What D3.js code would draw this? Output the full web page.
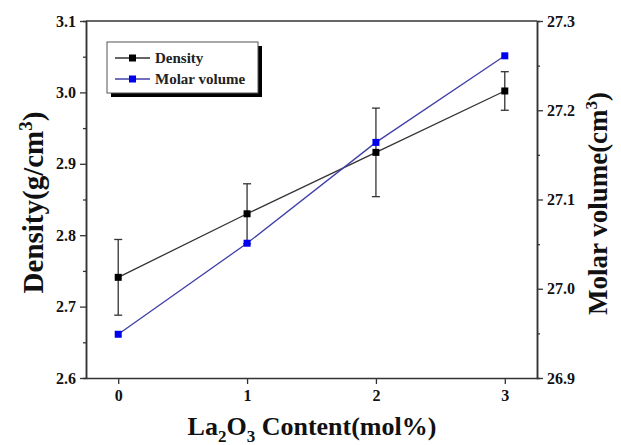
<!DOCTYPE html>
<html><head><meta charset="utf-8">
<script src="https://cdn.jsdelivr.net/npm/d3@7"></script>
<style>body{margin:0;background:#fff}svg{display:block}text{font-family:"Liberation Serif","Times New Roman",serif !important;font-weight:bold !important}</style>
</head><body>
<script>
const content = [0, 1, 2, 3];
const density = [2.741, 2.830, 2.916, 3.002];
const densityErr = [0.053, 0.042, 0.062, 0.027];
const molarVolume = [26.949, 27.051, 27.164, 27.261];
const xTicks = [0, 1, 2, 3];
const leftTicks = [2.6, 2.7, 2.8, 2.9, 3.0, 3.1];
const rightTicks = [26.9, 27.0, 27.1, 27.2, 27.3];
const seriesNames = ["Density", "Molar volume"];

const W = 621, H = 445;
const m = {l: 86, r: 537, t: 21, b: 378};
const svg = d3.select("body").append("svg").attr("width", W).attr("height", H);
const x = d3.scaleLinear().domain([-0.25, 3.25]).range([m.l, m.r]);
const yL = d3.scaleLinear().domain([2.6, 3.1]).range([m.b, m.t]);
const yR = d3.scaleLinear().domain([26.9, 27.3]).range([m.b, m.t]);
const axisCol = "#333";
const serif = '"Liberation Serif","Times New Roman",serif';

function styleAxis(g){
  g.attr("font-family", serif).attr("font-size", 16).attr("font-weight", "bold");
  g.selectAll("path.domain").attr("stroke", axisCol).attr("stroke-width", 1.5);
  g.selectAll(".tick line").attr("stroke", axisCol).attr("stroke-width", 1.3);
  g.selectAll(".tick text").attr("fill", "#111")
    .style("font-family", serif).style("font-weight", "bold").style("font-size", "16px");
}
// minor ticks
const minorL = d3.range(2.65, 3.1, 0.1);
const minorR = d3.range(26.95, 27.3, 0.1);
svg.append("g").attr("transform", `translate(${m.l},0)`)
  .call(d3.axisLeft(yL).tickValues(minorL).tickSize(3).tickFormat(""))
  .call(styleAxis);
svg.append("g").attr("transform", `translate(${m.r},0)`)
  .call(d3.axisRight(yR).tickValues(minorR).tickSize(3).tickFormat(""))
  .call(styleAxis);
// major axes
svg.append("g").attr("transform", `translate(${m.l},0)`)
  .call(d3.axisLeft(yL).tickValues(leftTicks).tickSize(6).tickSizeOuter(0).tickPadding(4).tickFormat(d3.format(".1f")))
  .call(styleAxis);
svg.append("g").attr("transform", `translate(${m.r},0)`)
  .call(d3.axisRight(yR).tickValues(rightTicks).tickSize(6).tickSizeOuter(0).tickPadding(4).tickFormat(d3.format(".1f")))
  .call(styleAxis);
svg.append("g").attr("transform", `translate(0,${m.b})`)
  .call(d3.axisBottom(x).tickValues(xTicks).tickSize(6).tickSizeOuter(0).tickPadding(6).tickFormat(d3.format("d")))
  .call(styleAxis);
// top frame
svg.append("line").attr("x1", m.l).attr("x2", m.r).attr("y1", m.t).attr("y2", m.t)
  .attr("stroke", axisCol).attr("stroke-width", 1.5);

// Density line
const densPts = content.map((c, i) => ({c, v: density[i], e: densityErr[i]}));
const molPts = content.map((c, i) => ({c, v: molarVolume[i]}));
svg.append("path").datum(densPts)
  .attr("d", d3.line().x(d => x(d.c)).y(d => yL(d.v)))
  .attr("fill", "none").attr("stroke", "#333").attr("stroke-width", 1.3);
svg.append("path").datum(molPts)
  .attr("d", d3.line().x(d => x(d.c)).y(d => yR(d.v)))
  .attr("fill", "none").attr("stroke", "#4040a8").attr("stroke-width", 1.3);
// error bars
const eb = svg.append("g").attr("stroke", "#333").attr("stroke-width", 1.3);
densPts.forEach(d => {
  const cx = x(d.c), y1 = yL(d.v + d.e), y2 = yL(d.v - d.e);
  eb.append("line").attr("x1", cx).attr("x2", cx).attr("y1", y1).attr("y2", y2);
  eb.append("line").attr("x1", cx - 4).attr("x2", cx + 4).attr("y1", y1).attr("y2", y1);
  eb.append("line").attr("x1", cx - 4).attr("x2", cx + 4).attr("y1", y2).attr("y2", y2);
});
// markers
svg.selectAll("rect.dm").data(densPts).join("rect").attr("class", "dm")
  .attr("x", d => x(d.c) - 3.5).attr("y", d => yL(d.v) - 3.5).attr("width", 7).attr("height", 7).attr("fill", "#000");
svg.selectAll("rect.mm").data(molPts).join("rect").attr("class", "mm")
  .attr("x", d => x(d.c) - 3.5).attr("y", d => yR(d.v) - 3.5).attr("width", 7).attr("height", 7).attr("fill", "#0000ee");

// legend
const lg = svg.append("g");
lg.append("rect").attr("x", 111).attr("y", 46).attr("width", 151).attr("height", 51).attr("fill", "#000");
lg.append("rect").attr("x", 107).attr("y", 42).attr("width", 151).attr("height", 51).attr("fill", "#fff").attr("stroke", "#555").attr("stroke-width", 1);
const lgCols = [["#333", "#000"], ["#4040a8", "#0000ee"]];
seriesNames.forEach((n, i) => {
  const yy = 58 + i * 21;
  lg.append("line").attr("x1", 115).attr("x2", 150).attr("y1", yy).attr("y2", yy).attr("stroke", lgCols[i][0]).attr("stroke-width", 1.3);
  lg.append("rect").attr("x", 129).attr("y", yy - 3.5).attr("width", 7).attr("height", 7).attr("fill", lgCols[i][1]);
  lg.append("text").attr("x", 155).attr("y", yy + 5).attr("font-size", 15).attr("fill", "#222").text(n);
});

// axis titles
const lt = svg.append("text").attr("transform", `translate(43,${(m.t + m.b) / 2 + 3}) rotate(-90)`)
  .attr("text-anchor", "middle").attr("font-size", 29).attr("fill", "#111");
lt.append("tspan").text("Density(g/cm");
lt.append("tspan").attr("dy", -11).attr("font-size", 19).text("3");
lt.append("tspan").attr("dy", 11).text(")");

const rt = svg.append("text").attr("transform", `translate(607,${(m.t + m.b) / 2 + 4}) rotate(-90)`)
  .attr("text-anchor", "middle").attr("font-size", 27).attr("fill", "#111");
rt.append("tspan").text("Molar volume(cm");
rt.append("tspan").attr("dy", -10).attr("font-size", 17).text("3");
rt.append("tspan").attr("dy", 10).text(")");

const bt = svg.append("text").attr("x", 312).attr("y", 435).attr("text-anchor", "middle").attr("font-size", 26).attr("fill", "#111");
bt.append("tspan").text("La");
bt.append("tspan").attr("dy", 7).attr("font-size", 17).text("2");
bt.append("tspan").attr("dy", -7).text("O");
bt.append("tspan").attr("dy", 7).attr("font-size", 17).text("3");
bt.append("tspan").attr("dy", -7).text(" Content(mol%)");
</script>
</body></html>
